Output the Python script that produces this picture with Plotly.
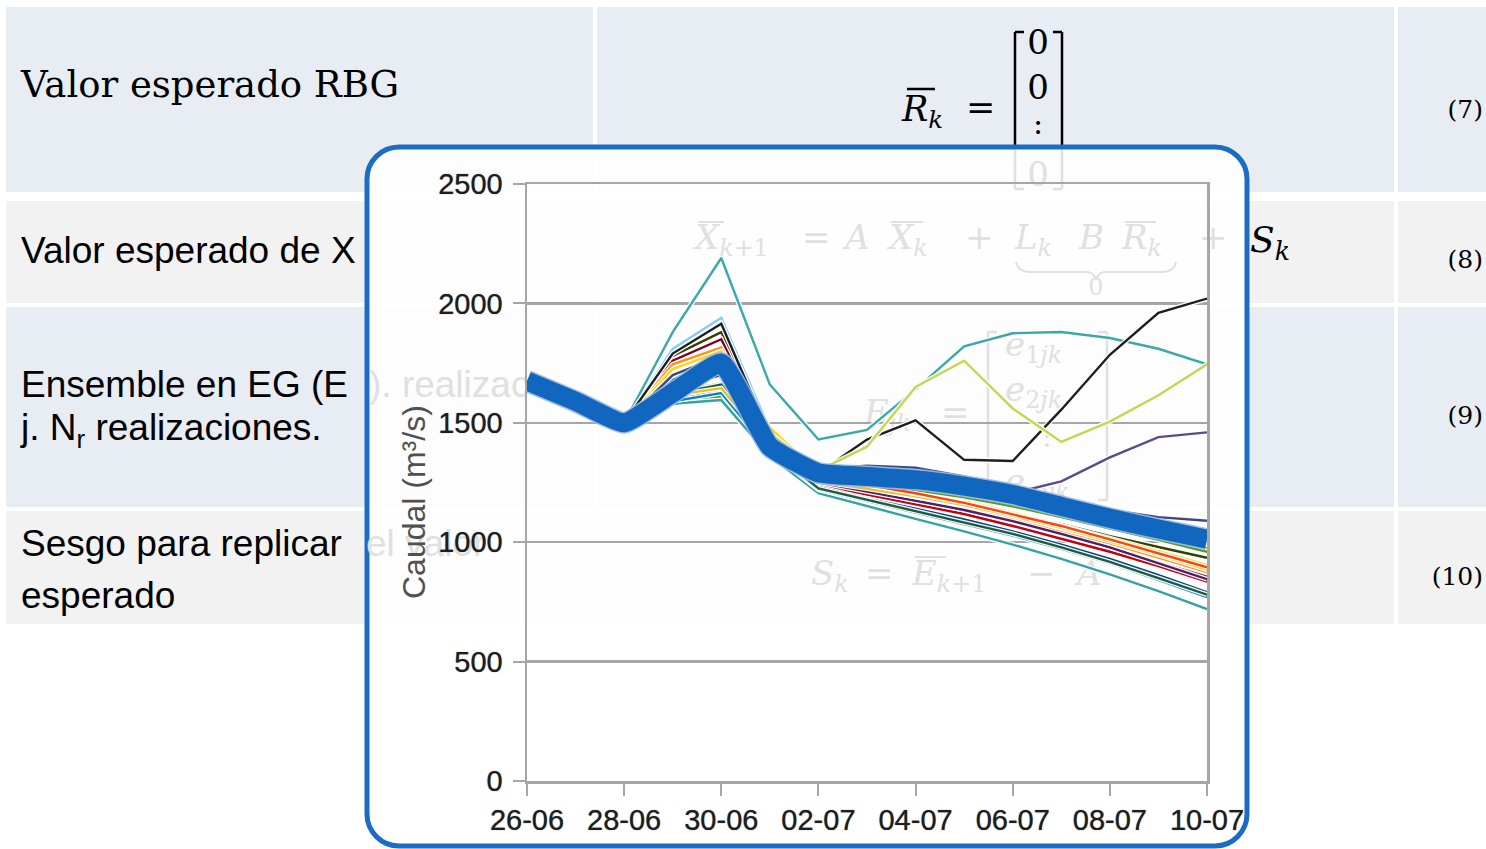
import plotly.graph_objects as go

W, H = 1486, 849
OFF = 0  # body margin is removed by the post script below

# ---------------- data ----------------
dates = ["2015-06-26", "2015-06-27", "2015-06-28", "2015-06-29", "2015-06-30",
         "2015-07-01", "2015-07-02", "2015-07-03", "2015-07-04", "2015-07-05",
         "2015-07-06", "2015-07-07", "2015-07-08", "2015-07-09", "2015-07-10"]
tick_dates = ["2015-06-26", "2015-06-28", "2015-06-30", "2015-07-02",
              "2015-07-04", "2015-07-06", "2015-07-08", "2015-07-10"]
tick_labels = ["26-06", "28-06", "30-06", "02-07", "04-07", "06-07", "08-07", "10-07"]
y_ticks = [0, 500, 1000, 1500, 2000, 2500]

mean_flow = [1675, 1590, 1500, 1625, 1750, 1400, 1290, 1275, 1262, 1235, 1200, 1150, 1100, 1055, 1012]

member_a = [1675, 1590, 1500, 1810, 1940, 1470, 1305, 1285, 1265, 1240, 1205, 1160, 1110, 1060, 1000]
member_b = [1675, 1590, 1500, 1780, 1880, 1445, 1280, 1245, 1205, 1165, 1120, 1075, 1025, 980, 935]
member_c = [1675, 1590, 1500, 1760, 1850, 1430, 1260, 1220, 1180, 1135, 1085, 1030, 975, 915, 855]
member_d = [1675, 1590, 1500, 1745, 1815, 1450, 1265, 1228, 1190, 1148, 1100, 1048, 995, 935, 875]
member_e = [1675, 1590, 1500, 1725, 1800, 1480, 1290, 1250, 1212, 1172, 1125, 1072, 1018, 962, 905]
member_f = [1675, 1590, 1500, 1630, 1665, 1405, 1290, 1268, 1245, 1220, 1185, 1138, 1085, 1030, 975]
member_g = [1675, 1590, 1500, 1600, 1640, 1385, 1240, 1200, 1160, 1118, 1068, 1015, 960, 900, 835]
member_h = [1675, 1590, 1500, 1595, 1610, 1375, 1270, 1245, 1218, 1188, 1150, 1105, 1058, 1010, 960]
member_i = [1675, 1590, 1500, 1580, 1595, 1360, 1205, 1150, 1098, 1045, 990, 930, 865, 795, 720]
member_j = [1675, 1590, 1500, 1610, 1650, 1395, 1230, 1182, 1140, 1095, 1045, 990, 930, 862, 790]
member_k = [1675, 1590, 1500, 1590, 1625, 1380, 1220, 1172, 1125, 1078, 1028, 972, 912, 842, 770]
member_l = [1675, 1590, 1500, 1650, 1700, 1410, 1250, 1212, 1175, 1135, 1088, 1035, 978, 912, 845]
member_m = [1675, 1590, 1500, 1620, 1660, 1390, 1225, 1178, 1132, 1085, 1035, 978, 918, 850, 780]
member_n = [1675, 1590, 1500, 1615, 1645, 1400, 1255, 1225, 1192, 1155, 1110, 1060, 1005, 947, 885]
member_o = [1675, 1590, 1500, 1700, 1770, 1440, 1275, 1240, 1205, 1165, 1118, 1068, 1012, 955, 895]
member_teal = [1675, 1590, 1500, 1880, 2190, 1660, 1430, 1470, 1640, 1820, 1875, 1880, 1855, 1810, 1745]
member_black = [1675, 1590, 1500, 1790, 1915, 1445, 1290, 1430, 1510, 1345, 1340, 1555, 1785, 1960, 2020]
member_lime = [1675, 1590, 1500, 1700, 1780, 1455, 1300, 1400, 1650, 1760, 1560, 1420, 1505, 1615, 1745]
member_purple = [1675, 1590, 1500, 1680, 1760, 1420, 1290, 1270, 1255, 1235, 1205, 1255, 1355, 1440, 1460]
member_navy = [1675, 1590, 1500, 1700, 1780, 1430, 1305, 1320, 1312, 1275, 1225, 1175, 1135, 1105, 1090]

members = [member_a, member_b, member_c, member_d, member_e, member_f, member_g,
           member_h, member_i, member_j, member_k, member_l, member_m, member_n,
           member_o, member_teal, member_black, member_lime, member_purple, member_navy]
member_colors = ["#83caff", "#314004", "#7e0021", "#ff950e", "#ffd320", "#aecf00",
                 "#c5000b", "#579d1c", "#33a3a3", "#004586", "#0084d1", "#4b1f6f",
                 "#1f5a3a", "#e8c020", "#ff420e", "#3aa9a9", "#1e1e1e", "#c6d64f",
                 "#5d4a8c", "#3b4a86"]

fig = go.Figure()

# ---------------- background slide (subplot x/y in page pixel units) ----------------
FAINT = "#e0e0e0"
SERIF = "DejaVu Serif"
SANS = "Liberation Sans"


def txt(x, y, s, size, color="#000000", family=SANS, pos="middle right"):
    fig.add_trace(go.Scatter(x=[x], y=[y], mode="text", text=[s], textposition=pos,
                             textfont=dict(size=size, color=color, family=family),
                             hoverinfo="skip", showlegend=False, xaxis="x", yaxis="y"))


shapes = []
rows = [(7, 192, "#e8ecf3"), (201, 303, "#f2f2f2"), (307, 507, "#e8ecf3"), (511, 624, "#f2f2f2")]
cols = [(6, 593), (597, 1394), (1398, 1486)]
for (ya, yb, c) in rows:
    for (xa, xb) in cols:
        shapes.append(dict(type="rect", xref="x", yref="y", x0=xa, x1=xb, y0=ya, y1=yb,
                           fillcolor=c, line=dict(width=0), layer="below"))


def seg(xa, ya, xb, yb, w=2.5):
    shapes.append(dict(type="line", xref="x", yref="y", x0=xa, y0=ya, x1=xb, y1=yb,
                       line=dict(color="#000000", width=w), layer="below"))


# row 1 matrix brackets & overline
seg(1015, 32, 1015, 189); seg(1015, 32, 1024, 32); seg(1015, 189, 1024, 189)
seg(1062, 32, 1062, 189); seg(1053, 32, 1062, 32); seg(1053, 189, 1062, 189)
seg(907, 89, 935, 89)
# row 2 overlines and underbrace
seg(698, 222, 724, 222, 2); seg(891, 222, 923, 222, 2); seg(1125, 222, 1156, 222, 2)
shapes.append(dict(type="path", xref="x", yref="y", layer="below",
                   path="M 1016,262 Q 1018,272 1030,272 L 1086,272 Q 1094,272 1096,280 "
                        "Q 1098,272 1106,272 L 1162,272 Q 1174,272 1176,262",
                   line=dict(color="#000000", width=1.8)))
# row 3 brackets
seg(988, 332, 988, 500); seg(988, 332, 997, 332); seg(988, 500, 997, 500)
seg(1107, 332, 1107, 500); seg(1098, 332, 1107, 332); seg(1098, 500, 1107, 500)
# row 4 overline
seg(915, 557, 946, 557, 2)

# overlay panel (semi-opaque white with blue rounded border)
x0, x1, y0, y1, r = 367, 1247, 147, 846, 32
k = 0.5523 * r
panel = (f"M {x0 + r},{y0} L {x1 - r},{y0} C {x1 - r + k},{y0} {x1},{y0 + r - k} {x1},{y0 + r} "
         f"L {x1},{y1 - r} C {x1},{y1 - r + k} {x1 - r + k},{y1} {x1 - r},{y1} "
         f"L {x0 + r},{y1} C {x0 + r - k},{y1} {x0},{y1 - r + k} {x0},{y1 - r} "
         f"L {x0},{y0 + r} C {x0},{y0 + r - k} {x0 + r - k},{y0} {x0 + r},{y0} Z")
shapes.append(dict(type="path", xref="x", yref="y", layer="below", path=panel,
                   fillcolor="rgba(255,255,255,0.88)", line=dict(color="#1a6cc5", width=5)))

# visible table text
txt(21, 88, "Valor esperado RBG", 37, family=SERIF)
txt(21, 254, "Valor esperado de X", 37)
txt(21, 388, "Ensemble en EG (E", 37)
txt(21, 431, "j. N<sub>r</sub> realizaciones.", 37)
txt(21, 547, "Sesgo para replicar", 37)
txt(21, 599, "esperado", 37)
# faint text under the panel
txt(369, 388, "). realizac", 37, color=FAINT)
txt(366, 547, "el valor", 37, color=FAINT)

# equation numbers
txt(1483, 112, "(7)", 25, family=SERIF, pos="middle left")
txt(1483, 262, "(8)", 25, family=SERIF, pos="middle left")
txt(1483, 418, "(9)", 25, family=SERIF, pos="middle left")
txt(1483, 579, "(10)", 25, family=SERIF, pos="middle left")

# row 1 equation
txt(902, 112, "<i>R</i><sub><i>k</i></sub>", 35, family=SERIF)
txt(966, 110, "=", 35, family=SERIF)
txt(1038, 45, "0", 34, family=SERIF, pos="middle center")
txt(1038, 90, "0", 34, family=SERIF, pos="middle center")
txt(1038, 126, ":", 30, family=SERIF, pos="middle center")
txt(1038, 177, "0", 34, color=FAINT, family=SERIF, pos="middle center")
# row 2 equation
txt(1250, 243, "<i>S</i><sub><i>k</i></sub>", 36, family=SERIF)
for xx, s in [(695, "<i>X</i><sub><i>k</i>+1</sub>"), (802, "="), (845, "<i>A</i>"),
              (889, "<i>X</i><sub><i>k</i></sub>"), (965, "+"), (1015, "<i>L</i><sub><i>k</i></sub>"),
              (1079, "<i>B</i>"), (1122, "<i>R</i><sub><i>k</i></sub>"), (1199, "+")]:
    txt(xx, 240, s, 34, color=FAINT, family=SERIF)
txt(1096, 289, "0", 24, color=FAINT, family=SERIF, pos="middle center")
# row 3 equation
txt(864, 415, "<i>E</i><sub><i>jk</i></sub>", 34, color=FAINT, family=SERIF)
txt(941, 415, "=", 34, color=FAINT, family=SERIF)
txt(1005, 347, "<i>e</i><sub>1<i>jk</i></sub>", 34, color=FAINT, family=SERIF)
txt(1005, 392, "<i>e</i><sub>2<i>jk</i></sub>", 34, color=FAINT, family=SERIF)
txt(1047, 440, ":", 28, color=FAINT, family=SERIF, pos="middle center")
txt(1005, 484, "<i>e</i><sub><i>mjk</i></sub>", 34, color=FAINT, family=SERIF)
# row 4 equation
for xx, s in [(811, "<i>S</i><sub><i>k</i></sub>"), (865, "="), (912, "<i>E</i><sub><i>k</i>+1</sub>"),
              (1027, "\u2212"), (1077, "<i>A</i>")]:
    txt(xx, 576, s, 34, color=FAINT, family=SERIF)

# ---------------- chart (subplot x2/y2) ----------------
for vals, col in zip(members, member_colors):
    fig.add_trace(go.Scatter(x=dates, y=vals, mode="lines", xaxis="x2", yaxis="y2",
                             line=dict(color="rgba(255,255,255,0.95)", width=5),
                             hoverinfo="skip", showlegend=False))
    fig.add_trace(go.Scatter(x=dates, y=vals, mode="lines", xaxis="x2", yaxis="y2",
                             line=dict(color=col, width=2.4), showlegend=False))

fig.add_trace(go.Scatter(x=dates, y=mean_flow, mode="lines", xaxis="x2", yaxis="y2",
                         line=dict(color="rgba(150,185,225,0.9)", width=22, shape="spline", smoothing=0.4),
                         hoverinfo="skip", showlegend=False))
fig.add_trace(go.Scatter(x=dates, y=mean_flow, mode="lines", xaxis="x2", yaxis="y2",
                         line=dict(color="#1166bf", width=19, shape="spline", smoothing=0.4),
                         showlegend=False))

GRID = "#a6a6a6"
TICKFONT = dict(family=SANS, size=29, color="#1e1e1e", shadow="0px 0px 1px #555555")

FW, FH = W - OFF, H - OFF


def px_x(v):
    return (v - OFF) / FW


def px_y(v):
    return 1 - (v - OFF) / FH


fig.update_layout(
    width=FW, height=FH, margin=dict(l=0, r=0, t=0, b=0, pad=0, autoexpand=False),
    paper_bgcolor="#ffffff", plot_bgcolor="rgba(0,0,0,0)",
    showlegend=False, shapes=shapes, hovermode=False,
    xaxis=dict(range=[OFF, W], domain=[0, 1], visible=False, fixedrange=True, automargin=False),
    yaxis=dict(range=[H, OFF], domain=[0, 1], visible=False, fixedrange=True, automargin=False),
    xaxis2=dict(type="date", range=[dates[0], dates[-1]], domain=[px_x(527), px_x(1207)], anchor="y2",
                tickvals=tick_dates, ticktext=tick_labels, ticks="outside", ticklen=12,
                tickwidth=2, tickcolor=GRID, showline=True, linecolor=GRID, linewidth=2.5,
                mirror=True, showgrid=False, zeroline=False, tickfont=TICKFONT,
                ticklabelstandoff=0, automargin=False),
    yaxis2=dict(range=[0, 2500], domain=[px_y(781), px_y(184)], anchor="x2",
                tickvals=y_ticks, ticks="outside", ticklen=12, tickwidth=2, tickcolor=GRID,
                showline=True, linecolor=GRID, linewidth=2.5, mirror=True,
                showgrid=True, gridcolor=GRID, gridwidth=2.5, zeroline=False,
                tickfont=TICKFONT, ticklabelstandoff=4, automargin=False),
    annotations=[dict(xref="paper", yref="paper", x=px_x(414), y=px_y(502),
                      text="Caudal (m\u00b3/s)", textangle=-90, showarrow=False,
                      xanchor="center", yanchor="middle",
                      font=dict(family=SANS, size=32, color="#505050"))],
)

fig.write_html("out.html", config={"displayModeBar": False, "staticPlot": True},
               post_script="document.body.style.margin='0px';"
                           "document.documentElement.style.overflow='hidden';")
